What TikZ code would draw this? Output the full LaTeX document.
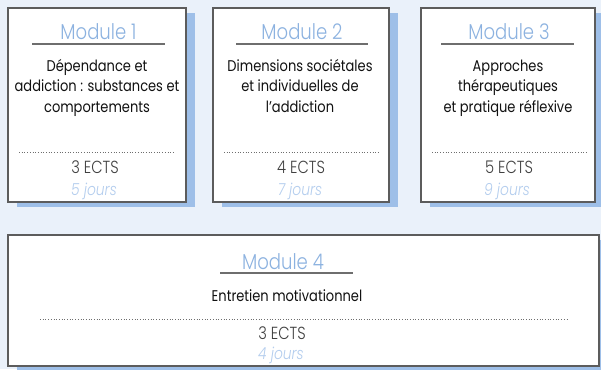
\documentclass[tikz,border=0pt]{standalone}
\usepackage{fontspec}
\setmainfont{Poppins}[FakeStretch=0.84]
\newfontfamily\lightfont{Poppins Light}[FakeStretch=0.84]
\usetikzlibrary{shadows}
\definecolor{bgc}{HTML}{EAF1FA}
\definecolor{shadowc}{HTML}{9EBFE8}
\definecolor{titlec}{HTML}{8CB2E0}
\definecolor{joursc}{HTML}{B3CDEE}
\definecolor{linec}{HTML}{6E6E6E}
\definecolor{borderc}{HTML}{5C5C5C}
\definecolor{bodyc}{HTML}{111111}
\definecolor{ectsc}{HTML}{404040}
\tikzset{
  modbox/.style={draw=borderc, line width=1.2pt, fill=white, inner sep=0pt,
    drop shadow={shadow xshift=8.5pt, shadow yshift=-5pt, fill=shadowc, opacity=1}},
  titletext/.style={anchor=base, inner sep=0pt, text=titlec, font=\lightfont\fontsize{21.5}{21.5}\selectfont},
  bodytext/.style={anchor=base, inner sep=0pt, text=bodyc, align=center,
    font=\fontsize{15.5}{20.5}\selectfont},
  ectstext/.style={anchor=base, inner sep=0pt, text=ectsc, font=\lightfont\fontsize{17.5}{17.5}\selectfont},
  jourstext/.style={anchor=base, inner sep=0pt, text=joursc, font=\lightfont\itshape\fontsize{16.5}{16.5}\selectfont},
  uline/.style={draw=linec, line width=1.3pt},
  dline/.style={draw=linec, line width=0.7pt, dotted}
}
\begin{document}
\begin{tikzpicture}[x=1pt,y=-1pt]
\fill[bgc] (0,0) rectangle (601,369);
\useasboundingbox (0,0) rectangle (601,369);
% boxes
\node[modbox, minimum width=178pt, minimum height=194pt] (b1) at (97,105) {};
\node[modbox, minimum width=176pt, minimum height=194pt] (b2) at (301,105) {};
\node[modbox, minimum width=174pt, minimum height=194pt] (b3) at (508,105) {};
\node[modbox, minimum width=591pt, minimum height=131pt] (b4) at (303.5,300.5) {};
% Module 1 (multi-line body: base anchor is the last line)
\node[titletext] (t1) at (98.5,39) {Module 1};
\draw[uline] (32,44) -- (165,44);
\node[bodytext] (c1) at (97,112) {Dépendance et\\addiction : substances et\\comportements};
\draw[dline] (19,152) -- (174,152);
\node[ectstext] (e1) at (95,173) {3 ECTS};
\node[jourstext] (j1) at (94,195) {5 jours};
% Module 2
\node[titletext] (t2) at (302,39) {Module 2};
\draw[uline] (236,44) -- (368,44);
\node[bodytext] (c2) at (300,112) {Dimensions sociétales\\et individuelles de\\l’addiction};
\draw[dline] (224,152) -- (380,152);
\node[ectstext] (e2) at (301,173) {4 ECTS};
\node[jourstext] (j2) at (300,195) {7 jours};
% Module 3
\node[titletext] (t3) at (509,39) {Module 3};
\draw[uline] (441,44) -- (574,44);
\node[bodytext] (c3) at (508,112) {Approches\\thérapeutiques\\et pratique réflexive};
\draw[dline] (432,152) -- (587,152);
\node[ectstext] (e3) at (509,173) {5 ECTS};
\node[jourstext] (j3) at (507,195) {9 jours};
% Module 4
\node[titletext] (t4) at (283,269) {Module 4};
\draw[uline] (220,273) -- (353,273);
\node[bodytext] (c4) at (287,301) {Entretien motivationnel};
\draw[dline] (40,319) -- (569,319);
\node[ectstext] (e4) at (282,339) {3 ECTS};
\node[jourstext] (j4) at (281,359) {4 jours};
\end{tikzpicture}
\end{document}
